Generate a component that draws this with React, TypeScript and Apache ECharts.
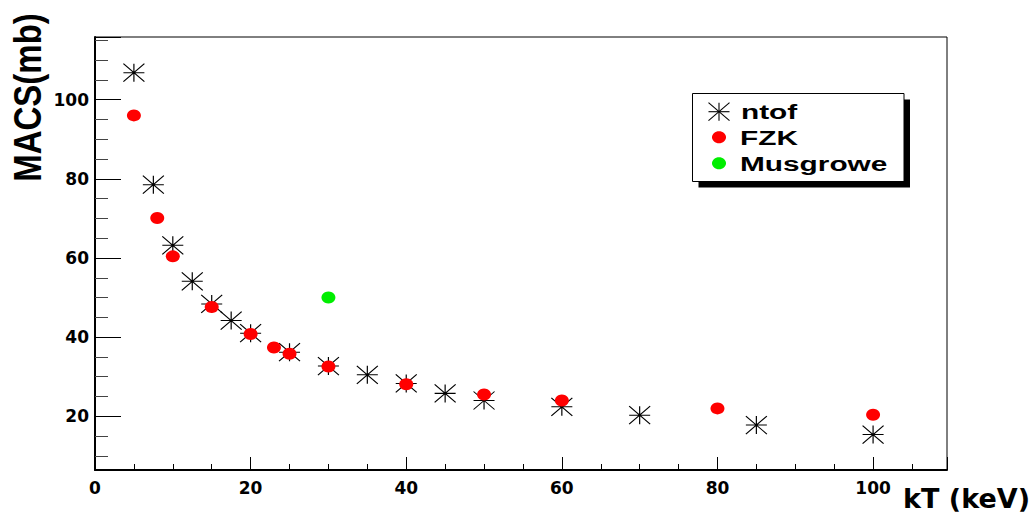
import React, { useEffect, useRef } from "react";
import * as echarts from "echarts";

// kT (keV) / MACS (mb)
const ntofX = [5, 7.5, 10, 12.5, 15, 17.5, 20, 25, 30, 35, 40, 45, 50, 60, 70, 85, 100];
const ntofY = [106.8, 78.5, 63.2, 54.1, 48.4, 44.2, 41.0, 36.2, 32.7, 30.5, 28.3, 25.8, 24.0, 22.4, 20.3, 17.8, 15.4];
const fzkX = [5, 8, 10, 15, 20, 23, 25, 30, 40, 50, 60, 80, 100];
const fzkY = [96.0, 70.1, 60.4, 47.6, 40.8, 37.4, 35.8, 32.6, 28.1, 25.5, 24.0, 22.0, 20.4];
const musX = [30];
const musY = [50.0];
const seriesNames = ["ntof", "FZK", "Musgrowe"];
const xTitle = "kT (keV)";
const yTitle = "MACS(mb)";

const STAR = "path://M0,9 L21,9 M10.5,0 L10.5,18 M0,0 L21,18 M21,0 L0,18";
const LBL = "DejaVu Sans";

const pairs = (xs: number[], ys: number[]) => xs.map((x, i) => [x, ys[i]]);
const fmt = (v: number) => (Math.abs(v % 20) < 1e-6 ? String(v) : "");

export default function App() {
  const ref = useRef<HTMLDivElement>(null);
  useEffect(() => {
    if (!ref.current) return;
    const chart = echarts.init(ref.current, undefined, { renderer: "svg" });
    const legendX = 692.5;
    const legendY = 93.5;
    const sx = 719;
    const sy = 111.7;
    const legendFont = "bold 21px 'Liberation Sans', Arial, sans-serif";
    chart.setOption({
      animation: false,
      backgroundColor: "#ffffff",
      grid: {
        left: 95,
        right: 85,
        top: 37,
        bottom: 46,
        containLabel: false,
        outerBoundsMode: "none",
        show: true,
        borderColor: "#000",
        borderWidth: 1,
        backgroundColor: "transparent",
      },
      xAxis: {
        type: "value",
        min: 0,
        max: 109.5,
        interval: 20,
        axisLine: { lineStyle: { color: "#000", width: 2 } },
        axisTick: { inside: true, length: 13, lineStyle: { color: "#000", width: 1 } },
        minorTick: { show: true, splitNumber: 4, length: 6, lineStyle: { color: "#000", width: 1 } },
        splitLine: { show: false },
        minorSplitLine: { show: false },
        axisLabel: {
          formatter: fmt,
          color: "#000",
          fontFamily: LBL,
          fontWeight: "bold",
          fontSize: 17,
          margin: 9,
        },
        name: xTitle,
        nameLocation: "end",
        nameGap: 83,
        nameTextStyle: {
          align: "right",
          verticalAlign: "top",
          lineHeight: 56,
          color: "#000",
          fontFamily: LBL,
          fontWeight: "bold",
          fontSize: 27,
        },
      },
      yAxis: {
        type: "value",
        min: 6.45,
        max: 115.8,
        splitNumber: 5,
        axisLine: { lineStyle: { color: "#000", width: 2 } },
        axisTick: { inside: true, length: 26, lineStyle: { color: "#000", width: 1 } },
        minorTick: { show: true, splitNumber: 4, length: 13, lineStyle: { color: "#444", width: 1 } },
        splitLine: { show: false },
        minorSplitLine: { show: false },
        axisLabel: {
          formatter: fmt,
          color: "#000",
          fontFamily: LBL,
          fontWeight: "bold",
          fontSize: 17,
          margin: 6,
        },
      },
      series: [
        {
          name: seriesNames[0],
          type: "scatter",
          data: pairs(ntofX, ntofY),
          symbol: STAR,
          symbolSize: [21, 18],
          itemStyle: { color: "rgba(0,0,0,0)", borderColor: "#000", borderWidth: 1.1, opacity: 1 },
          z: 2,
        },
        {
          name: seriesNames[1],
          type: "scatter",
          data: pairs(fzkX, fzkY),
          symbol: "circle",
          symbolSize: [14, 12],
          itemStyle: { color: "#ff0000", opacity: 1 },
          z: 3,
        },
        {
          name: seriesNames[2],
          type: "scatter",
          data: pairs(musX, musY),
          symbol: "circle",
          symbolSize: [14, 12],
          itemStyle: { color: "#00ee00", opacity: 1 },
          z: 3,
        },
      ],
      graphic: [
        {
          type: "text",
          x: 28,
          y: 97.5,
          rotation: Math.PI / 2,
          scaleY: 1.15,
          style: {
            text: yTitle,
            font: "bold 33px 'Liberation Sans', Arial, sans-serif",
            fill: "#000",
            align: "center",
            verticalAlign: "middle",
          },
        },
        {
          type: "group",
          z: 100,
          children: [
            { type: "rect", shape: { x: legendX + 6, y: legendY + 6, width: 211.5, height: 88 }, style: { fill: "#000" } },
            { type: "rect", shape: { x: legendX, y: legendY, width: 211.5, height: 88 }, style: { fill: "#fff", stroke: "#000", lineWidth: 1 } },
            { type: "line", shape: { x1: sx - 10.5, y1: sy, x2: sx + 10.5, y2: sy }, style: { stroke: "#000", lineWidth: 1.1 } },
            { type: "line", shape: { x1: sx, y1: sy - 9, x2: sx, y2: sy + 9 }, style: { stroke: "#000", lineWidth: 1.1 } },
            { type: "line", shape: { x1: sx - 10.5, y1: sy - 9, x2: sx + 10.5, y2: sy + 9 }, style: { stroke: "#000", lineWidth: 1.1 } },
            { type: "line", shape: { x1: sx + 10.5, y1: sy - 9, x2: sx - 10.5, y2: sy + 9 }, style: { stroke: "#000", lineWidth: 1.1 } },
            { type: "ellipse", shape: { cx: sx, cy: 137.3, rx: 7, ry: 6 }, style: { fill: "#ff0000" } },
            { type: "ellipse", shape: { cx: sx, cy: 163.3, rx: 7, ry: 6 }, style: { fill: "#00ee00" } },
            {
              type: "text",
              x: 741,
              y: 111.7,
              scaleX: 1.42,
              style: { text: seriesNames[0], font: legendFont, fill: "#000", align: "left", verticalAlign: "middle" },
            },
            {
              type: "text",
              x: 740,
              y: 137.3,
              scaleX: 1.42,
              style: { text: seriesNames[1], font: legendFont, fill: "#000", align: "left", verticalAlign: "middle" },
            },
            {
              type: "text",
              x: 740,
              y: 163.3,
              scaleX: 1.42,
              style: { text: seriesNames[2], font: legendFont, fill: "#000", align: "left", verticalAlign: "middle" },
            },
          ],
        },
      ],
    });
    return () => chart.dispose();
  }, []);
  return <div ref={ref} style={{ position: "fixed", left: 0, top: 0, width: 1032, height: 516, background: "#fff" }} />;
}
